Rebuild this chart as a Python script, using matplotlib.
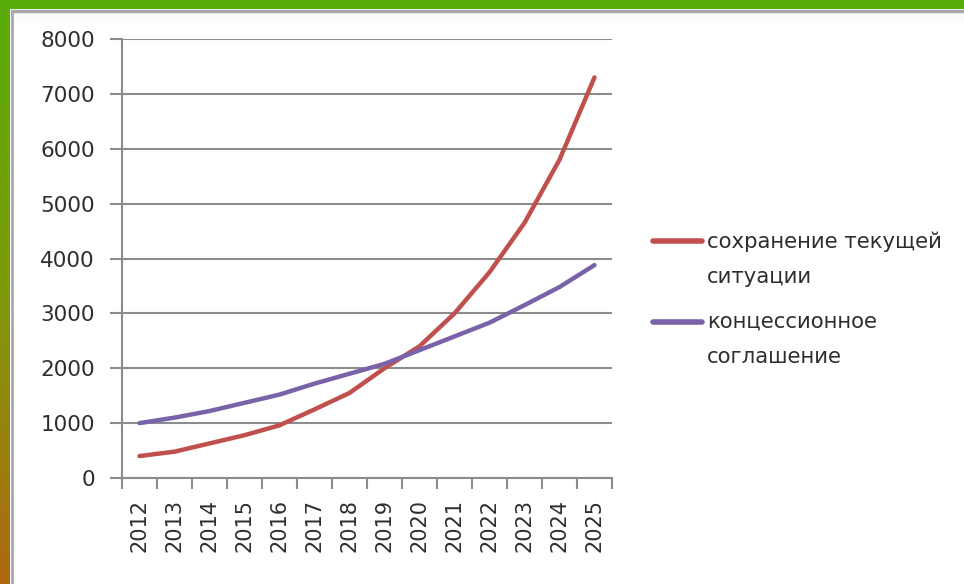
import numpy as np
import matplotlib.pyplot as plt
from matplotlib.colors import LinearSegmentedColormap

# data
years = [2012, 2013, 2014, 2015, 2016, 2017, 2018, 2019, 2020, 2021, 2022, 2023, 2024, 2025]
current = [400, 480, 630, 780, 960, 1250, 1550, 2000, 2400, 3000, 3750, 4650, 5800, 7300]
concession = [1000, 1100, 1220, 1370, 1520, 1720, 1900, 2080, 2330, 2580, 2830, 3150, 3480, 3880]
series_names = ["сохранение текущей\nситуации", "концессионное\nсоглашение"]
colors = ["#c0504d", "#7a62a8"]

plt.rcParams['font.family'] = ['DejaVu Sans']
text_color = "#2e2e2e"
grid_color = "#8c8c8c"

W, H = 964, 584
fig = plt.figure(figsize=(W / 100, H / 100), dpi=100)
fig.patch.set_facecolor("white")

# frame decoration in pixel coords: green top band, green->orange left band, grey inner lines
bg = fig.add_axes([0, 0, 1, 1], zorder=-5)
bg.axis("off")
bg.fill_between([0, W], 0, 8.5, color="#58ad0a", lw=0)
grad = np.linspace(0, 1, 256).reshape(-1, 1)
cmap = LinearSegmentedColormap.from_list("band", ["#58ad0a", "#7f9a0c", "#b0680f"])
bg.imshow(grad, cmap=cmap, extent=[0, 10, H, 0], aspect="auto", origin="upper")
bg.fill_between([12.5, W], 12, 22, color="#fbfbfb", lw=0)
bg.plot([11.5, 11.5], [10.5, H], color="#a8a8a8", lw=2)
bg.plot([11.5, W], [10.5, 10.5], color="#a8a8a8", lw=2.5)

# legend drawn by hand to keep Excel-like layout
leg_y = [241, 322]
for c, name, y in zip(colors, series_names, leg_y):
    bg.plot([653, 702], [y, y], color=c, lw=4, solid_capstyle="round")
    bg.text(707, y - 10, name, fontsize=15.3, color=text_color, va="top",
            linespacing=1.95)
bg.set_xlim(0, W)
bg.set_ylim(H, 0)

ax = fig.add_axes([122 / W, (H - 478) / H, (612 - 122) / W, (478 - 39) / H])
x = np.arange(len(years))
ax.plot(x, current, color=colors[0], lw=3.2, solid_capstyle="round")
ax.plot(x, concession, color=colors[1], lw=3.2, solid_capstyle="round")

ax.set_xlim(-0.5, len(years) - 0.5)
ax.set_ylim(0, 8000)
ax.set_yticks(np.arange(0, 8001, 1000))
ax.yaxis.grid(True, color=grid_color, lw=1.5)
ax.set_axisbelow(True)

ax.set_xticks(np.arange(-0.5, len(years), 1))
ax.set_xticklabels([])
ax.set_xticks(x, minor=True)
ax.set_xticklabels([str(y) for y in years], minor=True, rotation=90, fontsize=15, color=text_color)
ax.tick_params(axis="x", which="minor", length=0, pad=15)
ax.tick_params(axis="x", which="major", length=8, width=1.5, color=grid_color, direction="out")
ax.tick_params(axis="y", length=8.5, width=1.5, color=grid_color, labelsize=15.5, labelcolor=text_color, pad=11)

for s in ["top", "right"]:
    ax.spines[s].set_visible(False)
for s in ["left", "bottom"]:
    ax.spines[s].set_color(grid_color)
    ax.spines[s].set_linewidth(1.5)

fig.savefig("out.png", dpi=100, facecolor="white")
